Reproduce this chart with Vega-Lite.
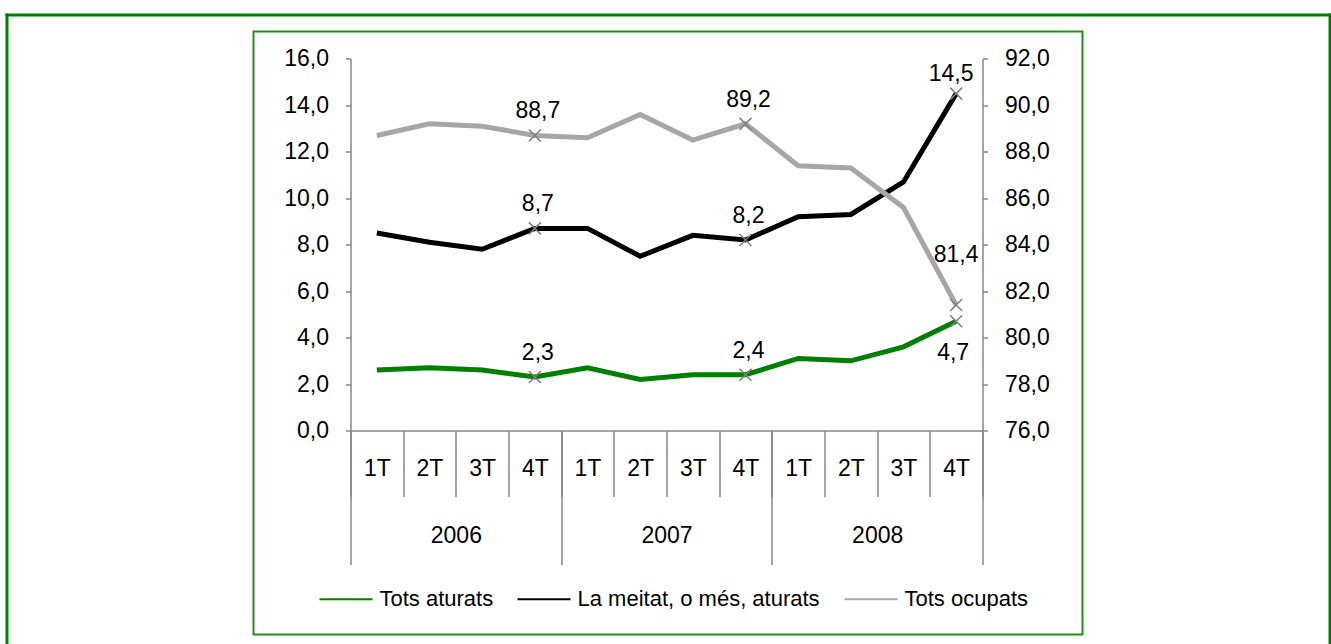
{
 "$schema": "https://vega.github.io/schema/vega-lite/v6.json",
 "padding": {"left": 4.5, "top": 12.5, "right": 0, "bottom": 0},
 "background": "white",
 "config": {
  "locale": {"number": {"decimal": ",", "thousands": ".", "grouping": [3], "currency": ["", " €"]}},
  "font": "Liberation Sans"
 },
 "datasets": {
  "d": [
   {"key": "2006-1T", "year": "2006", "q": "1T", "serie": "Tots aturats", "v": 2.6},
   {"key": "2006-2T", "year": "2006", "q": "2T", "serie": "Tots aturats", "v": 2.7},
   {"key": "2006-3T", "year": "2006", "q": "3T", "serie": "Tots aturats", "v": 2.6},
   {"key": "2006-4T", "year": "2006", "q": "4T", "serie": "Tots aturats", "v": 2.3},
   {"key": "2007-1T", "year": "2007", "q": "1T", "serie": "Tots aturats", "v": 2.7},
   {"key": "2007-2T", "year": "2007", "q": "2T", "serie": "Tots aturats", "v": 2.2},
   {"key": "2007-3T", "year": "2007", "q": "3T", "serie": "Tots aturats", "v": 2.4},
   {"key": "2007-4T", "year": "2007", "q": "4T", "serie": "Tots aturats", "v": 2.4},
   {"key": "2008-1T", "year": "2008", "q": "1T", "serie": "Tots aturats", "v": 3.1},
   {"key": "2008-2T", "year": "2008", "q": "2T", "serie": "Tots aturats", "v": 3.0},
   {"key": "2008-3T", "year": "2008", "q": "3T", "serie": "Tots aturats", "v": 3.6},
   {"key": "2008-4T", "year": "2008", "q": "4T", "serie": "Tots aturats", "v": 4.7},
   {"key": "2006-1T", "year": "2006", "q": "1T", "serie": "La meitat, o més, aturats", "v": 8.5},
   {"key": "2006-2T", "year": "2006", "q": "2T", "serie": "La meitat, o més, aturats", "v": 8.1},
   {"key": "2006-3T", "year": "2006", "q": "3T", "serie": "La meitat, o més, aturats", "v": 7.8},
   {"key": "2006-4T", "year": "2006", "q": "4T", "serie": "La meitat, o més, aturats", "v": 8.7},
   {"key": "2007-1T", "year": "2007", "q": "1T", "serie": "La meitat, o més, aturats", "v": 8.7},
   {"key": "2007-2T", "year": "2007", "q": "2T", "serie": "La meitat, o més, aturats", "v": 7.5},
   {"key": "2007-3T", "year": "2007", "q": "3T", "serie": "La meitat, o més, aturats", "v": 8.4},
   {"key": "2007-4T", "year": "2007", "q": "4T", "serie": "La meitat, o més, aturats", "v": 8.2},
   {"key": "2008-1T", "year": "2008", "q": "1T", "serie": "La meitat, o més, aturats", "v": 9.2},
   {"key": "2008-2T", "year": "2008", "q": "2T", "serie": "La meitat, o més, aturats", "v": 9.3},
   {"key": "2008-3T", "year": "2008", "q": "3T", "serie": "La meitat, o més, aturats", "v": 10.7},
   {"key": "2008-4T", "year": "2008", "q": "4T", "serie": "La meitat, o més, aturats", "v": 14.5},
   {"key": "2006-1T", "year": "2006", "q": "1T", "serie": "Tots ocupats", "v": 88.7},
   {"key": "2006-2T", "year": "2006", "q": "2T", "serie": "Tots ocupats", "v": 89.2},
   {"key": "2006-3T", "year": "2006", "q": "3T", "serie": "Tots ocupats", "v": 89.1},
   {"key": "2006-4T", "year": "2006", "q": "4T", "serie": "Tots ocupats", "v": 88.7},
   {"key": "2007-1T", "year": "2007", "q": "1T", "serie": "Tots ocupats", "v": 88.6},
   {"key": "2007-2T", "year": "2007", "q": "2T", "serie": "Tots ocupats", "v": 89.6},
   {"key": "2007-3T", "year": "2007", "q": "3T", "serie": "Tots ocupats", "v": 88.5},
   {"key": "2007-4T", "year": "2007", "q": "4T", "serie": "Tots ocupats", "v": 89.2},
   {"key": "2008-1T", "year": "2008", "q": "1T", "serie": "Tots ocupats", "v": 87.4},
   {"key": "2008-2T", "year": "2008", "q": "2T", "serie": "Tots ocupats", "v": 87.3},
   {"key": "2008-3T", "year": "2008", "q": "3T", "serie": "Tots ocupats", "v": 85.6},
   {"key": "2008-4T", "year": "2008", "q": "4T", "serie": "Tots ocupats", "v": 81.4}
  ]
 },
 "width": 829,
 "height": 603,
 "view": {"stroke": "#1f8f1f", "strokeWidth": 2},
 "data": {"name": "d"},
 "resolve": {"scale": {"x": "independent", "y": "independent"}},
 "layer": [
  {
   "transform": [{"filter": "datum.serie != 'Tots ocupats'"}],
   "encoding": {
    "x": {"field": "key", "type": "nominal",
     "scale": {"type": "band", "range": [97, 729], "paddingInner": 0, "paddingOuter": 0},
     "axis": {"orient": "bottom", "offset": -204, "title": null, "tickBand": "extent", "tickSize": 66,
      "tickColor": "#868686", "tickWidth": 1.5, "domainColor": "#868686", "domainWidth": 1.5,
      "labelExpr": "substring(datum.label, 5)", "labelAngle": 0, "labelBaseline": "middle",
      "labelPadding": -28.5, "labelFontSize": 23, "labelFont": "Liberation Sans", "labelColor": "#000000"}},
    "y": {"field": "v", "type": "quantitative",
     "scale": {"domain": [0, 16], "range": [399, 27.3], "nice": false, "zero": false},
     "axis": {"orient": "left", "offset": -97, "title": null, "values": [0, 2, 4, 6, 8, 10, 12, 14, 16],
      "format": ".1f", "tickSize": 5, "tickColor": "#868686", "tickWidth": 1.5,
      "domainColor": "#868686", "domainWidth": 1.5, "grid": false, "labelPadding": 17,
      "labelFontSize": 23, "labelFont": "Liberation Sans", "labelColor": "#000000"}}
   },
   "layer": [
    {
     "mark": {"type": "line", "strokeWidth": 5},
     "encoding": {
      "color": {"field": "serie", "type": "nominal",
       "scale": {"domain": ["Tots aturats", "La meitat, o més, aturats", "Tots ocupats"], "range": ["#008000", "#000000", "#a6a6a6"]},
       "legend": {"orient": "none", "legendX": 65, "legendY": 540, "direction": "horizontal", "title": null,
        "symbolType": "stroke", "symbolSize": 2809, "symbolStrokeWidth": 2, "labelFontSize": 22, "labelLimit": 500,
        "labelFont": "Liberation Sans", "labelColor": "#000000", "labelOffset": 6, "columnPadding": 20, "padding": 0}}
     }
    },
    {
     "transform": [{"filter": "datum.q == '4T'"}],
     "mark": {"type": "point", "shape": "M-1,-1L1,1M1,-1L-1,1", "size": 144, "filled": false, "stroke": "#7f7f7f", "strokeWidth": 1.5, "opacity": 1}
    },
    {
     "transform": [{"filter": "datum.q == '4T' && datum.year != '2008'"}],
     "mark": {"type": "text", "dx": 3, "dy": -24, "fontSize": 23, "font": "Liberation Sans", "color": "#000000"},
     "encoding": {"text": {"field": "v", "type": "quantitative", "format": ".1f"}}
    },
    {
     "transform": [{"filter": "datum.key == '2008-4T' && datum.serie == 'La meitat, o més, aturats'"}],
     "mark": {"type": "text", "dx": -5, "dy": -20, "fontSize": 23, "font": "Liberation Sans", "color": "#000000"},
     "encoding": {"text": {"field": "v", "type": "quantitative", "format": ".1f"}}
    },
    {
     "transform": [{"filter": "datum.key == '2008-4T' && datum.serie == 'Tots aturats'"}],
     "mark": {"type": "text", "dx": -3, "dy": 32, "fontSize": 23, "font": "Liberation Sans", "color": "#000000"},
     "encoding": {"text": {"field": "v", "type": "quantitative", "format": ".1f"}}
    }
   ]
  },
  {
   "transform": [{"filter": "datum.serie == 'Tots ocupats'"}],
   "encoding": {
    "x": {"field": "key", "type": "nominal",
     "scale": {"type": "band", "range": [97, 729], "paddingInner": 0, "paddingOuter": 0},
     "axis": null},
    "y": {"field": "v", "type": "quantitative",
     "scale": {"domain": [76, 92], "range": [399, 27.3], "nice": false, "zero": false},
     "axis": {"orient": "right", "offset": -100, "title": null, "values": [76, 78, 80, 82, 84, 86, 88, 90, 92],
      "format": ".1f", "tickSize": 5, "tickColor": "#868686", "tickWidth": 1.5,
      "domainColor": "#868686", "domainWidth": 1.5, "grid": false, "labelPadding": 17,
      "labelFontSize": 23, "labelFont": "Liberation Sans", "labelColor": "#000000"}}
   },
   "layer": [
    {
     "mark": {"type": "line", "strokeWidth": 5},
     "encoding": {
      "color": {"field": "serie", "type": "nominal",
       "scale": {"domain": ["Tots aturats", "La meitat, o més, aturats", "Tots ocupats"], "range": ["#008000", "#000000", "#a6a6a6"]}}
     }
    },
    {
     "transform": [{"filter": "datum.q == '4T'"}],
     "mark": {"type": "point", "shape": "M-1,-1L1,1M1,-1L-1,1", "size": 144, "filled": false, "stroke": "#7f7f7f", "strokeWidth": 1.5, "opacity": 1}
    },
    {
     "transform": [{"filter": "datum.q == '4T' && datum.year != '2008'"}],
     "mark": {"type": "text", "dx": 3, "dy": -24, "fontSize": 23, "font": "Liberation Sans", "color": "#000000"},
     "encoding": {"text": {"field": "v", "type": "quantitative", "format": ".1f"}}
    },
    {
     "transform": [{"filter": "datum.key == '2008-4T'"}],
     "mark": {"type": "text", "dx": 0, "dy": -50, "fontSize": 23, "font": "Liberation Sans", "color": "#000000"},
     "encoding": {"text": {"field": "v", "type": "quantitative", "format": ".1f"}}
    }
   ]
  },
  {
   "mark": {"type": "point", "opacity": 0, "size": 0, "strokeWidth": 0},
   "encoding": {
    "x": {"field": "year", "type": "nominal",
     "scale": {"type": "band", "range": [97, 729], "paddingInner": 0, "paddingOuter": 0},
     "axis": {"orient": "bottom", "offset": -204, "title": null, "tickBand": "extent", "tickSize": 134,
      "tickColor": "#868686", "tickWidth": 1.5, "domain": false, "labelAngle": 0, "labelBaseline": "middle",
      "labelPadding": -29, "labelFontSize": 23, "labelFont": "Liberation Sans", "labelColor": "#000000"}}
   }
  },
  {
   "mark": {"type": "point", "opacity": 0, "size": 0, "strokeWidth": 0},
   "encoding": {
    "x": {"field": "v", "type": "quantitative",
     "scale": {"range": [-248.5, 1077.5], "zero": false, "nice": false},
     "axis": {"orient": "top", "offset": 17, "title": null, "ticks": false, "labels": false, "grid": false,
      "domainColor": "#008000", "domainWidth": 3}},
    "y": {"field": "v", "type": "quantitative",
     "scale": {"range": [613, -18.5], "zero": false, "nice": false},
     "axis": {"orient": "left", "offset": 247, "title": null, "ticks": false, "labels": false, "grid": false,
      "domainColor": "#008000", "domainWidth": 3}}
   }
  },
  {
   "mark": {"type": "point", "opacity": 0, "size": 0, "strokeWidth": 0},
   "encoding": {
    "y": {"field": "v", "type": "quantitative",
     "scale": {"range": [613, -18.5], "zero": false, "nice": false},
     "axis": {"orient": "right", "offset": 247, "title": null, "ticks": false, "labels": false, "grid": false,
      "domainColor": "#008000", "domainWidth": 3}}
   }
  }
 ]
}
